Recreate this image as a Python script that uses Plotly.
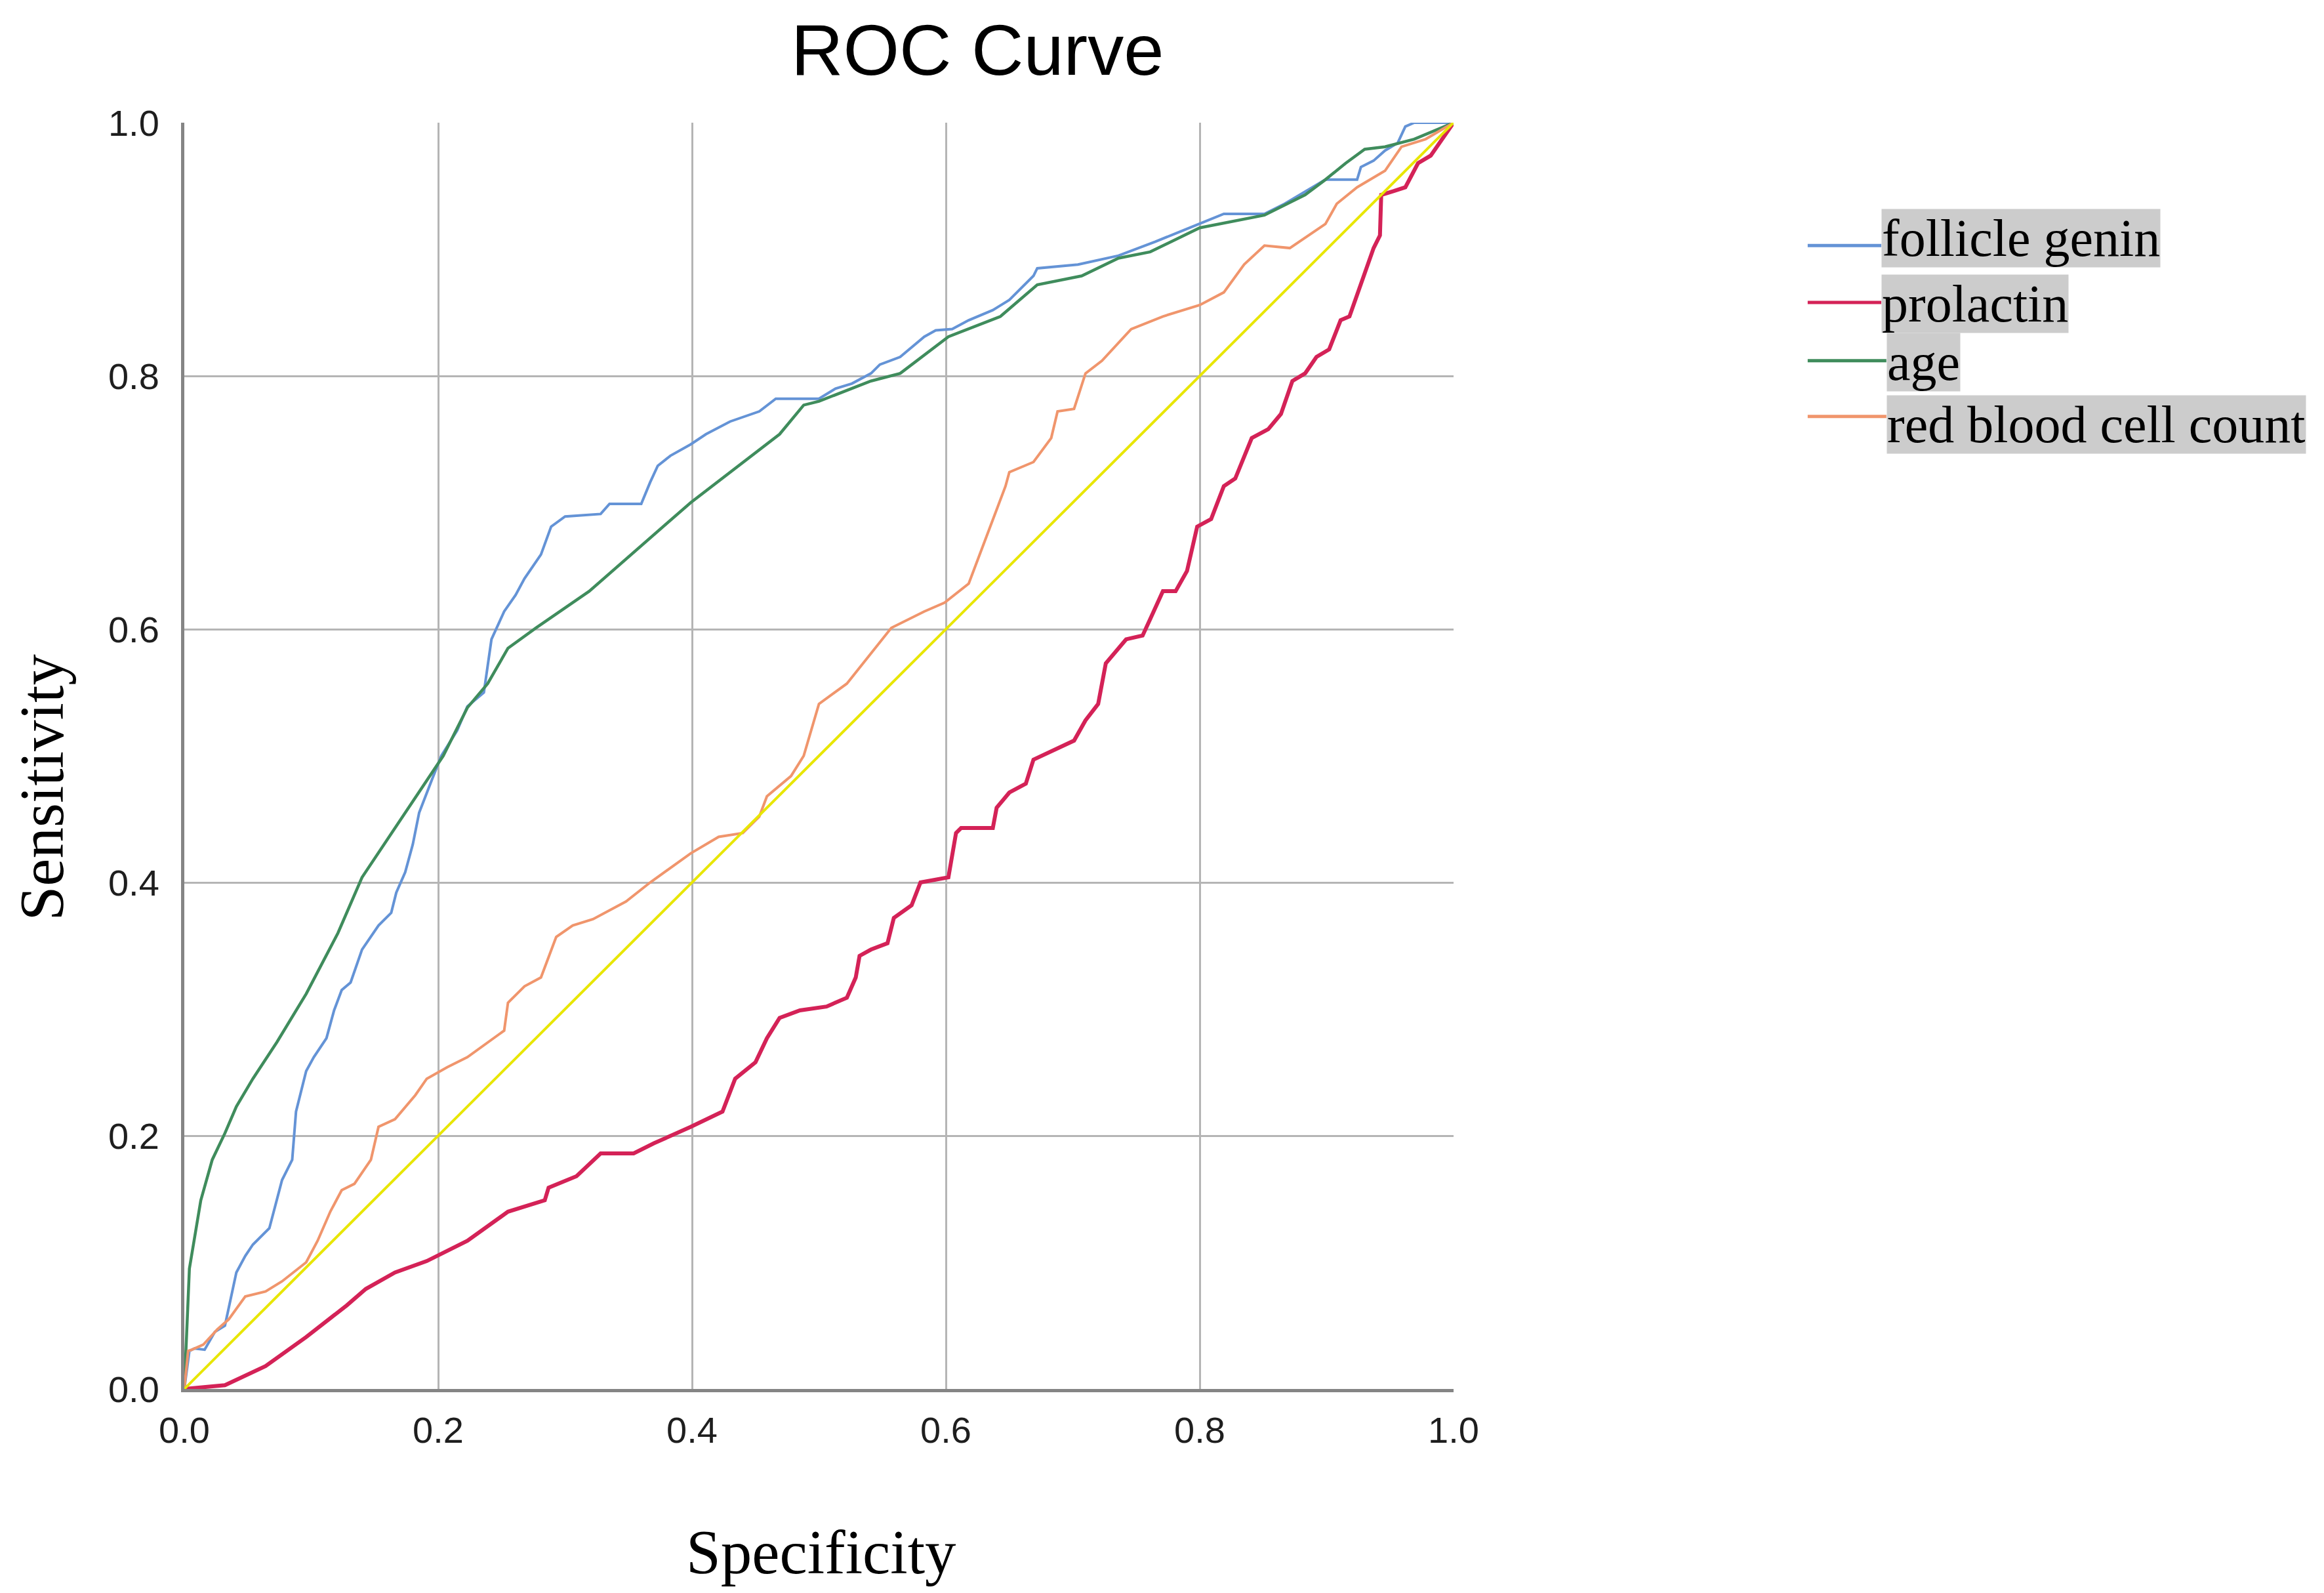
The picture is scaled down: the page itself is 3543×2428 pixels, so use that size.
import plotly.graph_objects as go

# ROC curves (x = "Specificity" axis, y = Sensitivity)
fg_x = [0, 0.004, 0.008, 0.016, 0.024, 0.032, 0.041, 0.048, 0.054, 0.067, 0.077,
        0.085, 0.088, 0.096, 0.102, 0.112, 0.118, 0.124, 0.131, 0.14, 0.153,
        0.163, 0.167, 0.174, 0.18, 0.185, 0.195, 0.2025, 0.215, 0.223, 0.236,
        0.242, 0.252, 0.261, 0.268, 0.281, 0.289, 0.3, 0.328, 0.335, 0.36,
        0.367, 0.373, 0.383, 0.399, 0.411, 0.43, 0.453, 0.466, 0.5, 0.513,
        0.526, 0.541, 0.548, 0.564, 0.583, 0.592, 0.605, 0.618, 0.637, 0.65,
        0.669, 0.672, 0.704, 0.736, 0.765, 0.787, 0.819, 0.851, 0.867, 0.899,
        0.924, 0.927, 0.937, 0.946, 0.956, 0.962, 0.969, 1.0]
fg_y = [0, 0.03, 0.032, 0.031, 0.045, 0.05, 0.092, 0.105, 0.114, 0.127, 0.165,
        0.181, 0.219, 0.251, 0.262, 0.277, 0.299, 0.315, 0.321, 0.347, 0.366,
        0.376, 0.392, 0.408, 0.43, 0.455, 0.481, 0.5, 0.52, 0.539, 0.55,
        0.592, 0.614, 0.627, 0.64, 0.659, 0.681, 0.689, 0.691, 0.699, 0.699,
        0.716, 0.729, 0.737, 0.746, 0.754, 0.764, 0.772, 0.782, 0.782, 0.79,
        0.794, 0.802, 0.809, 0.815, 0.831, 0.836, 0.837, 0.844, 0.852, 0.86,
        0.879, 0.885, 0.888, 0.895, 0.906, 0.915, 0.928, 0.928, 0.936, 0.955,
        0.955, 0.965, 0.97, 0.978, 0.984, 0.997, 1.0, 1.0]

prl_x = [0, 0.032, 0.064, 0.096, 0.128, 0.143, 0.166, 0.191, 0.223, 0.255,
         0.284, 0.287, 0.309, 0.328, 0.354, 0.37, 0.399, 0.424, 0.434, 0.45,
         0.459, 0.469, 0.485, 0.506, 0.522, 0.529, 0.532, 0.541, 0.554, 0.559,
         0.573, 0.58, 0.602, 0.608, 0.612, 0.637, 0.64, 0.65, 0.663, 0.669,
         0.701, 0.71, 0.72, 0.726, 0.742, 0.755, 0.761, 0.771, 0.781, 0.79,
         0.798, 0.809, 0.819, 0.828, 0.841, 0.854, 0.864, 0.873, 0.883, 0.892,
         0.902, 0.911, 0.918, 0.927, 0.937, 0.942, 0.943, 0.953, 0.962, 0.972,
         0.982, 1.0]
prl_y = [0, 0.003, 0.018, 0.041, 0.066, 0.079, 0.092, 0.101, 0.117, 0.14,
         0.149, 0.159, 0.168, 0.186, 0.186, 0.194, 0.207, 0.219, 0.245, 0.258,
         0.277, 0.293, 0.299, 0.302, 0.309, 0.325, 0.342, 0.347, 0.352, 0.372,
         0.382, 0.4, 0.404, 0.439, 0.443, 0.443, 0.459, 0.471, 0.478, 0.497,
         0.512, 0.528, 0.541, 0.573, 0.592, 0.595, 0.608, 0.63, 0.63, 0.646,
         0.681, 0.687, 0.713, 0.719, 0.751, 0.758, 0.77, 0.796, 0.802, 0.815,
         0.821, 0.844, 0.847, 0.872, 0.901, 0.911, 0.943, 0.946, 0.949, 0.968,
         0.974, 1.0]

age_x = [0, 0.004, 0.013, 0.022, 0.032, 0.041, 0.054, 0.073, 0.096, 0.121,
         0.14, 0.172, 0.204, 0.223, 0.239, 0.255, 0.277, 0.319, 0.399, 0.469,
         0.488, 0.5, 0.541, 0.564, 0.602, 0.643, 0.672, 0.707, 0.736, 0.761,
         0.8, 0.851, 0.883, 0.899, 0.915, 0.93, 0.946, 0.969, 1.0]
age_y = [0, 0.095, 0.149, 0.181, 0.202, 0.223, 0.245, 0.274, 0.312, 0.36,
         0.404, 0.452, 0.5, 0.538, 0.557, 0.585, 0.601, 0.63, 0.7, 0.754,
         0.777, 0.78, 0.796, 0.802, 0.831, 0.847, 0.872, 0.879, 0.893, 0.898,
         0.917, 0.927, 0.943, 0.955, 0.968, 0.979, 0.981, 0.987, 1.0]

rbc_x = [0, 0.003, 0.006, 0.015, 0.026, 0.035, 0.048, 0.064, 0.077, 0.096,
         0.105, 0.115, 0.124, 0.134, 0.147, 0.153, 0.166, 0.182, 0.191, 0.207,
         0.223, 0.252, 0.255, 0.268, 0.281, 0.293, 0.306, 0.322, 0.348, 0.367,
         0.399, 0.421, 0.44, 0.453, 0.459, 0.478, 0.488, 0.5, 0.522, 0.557,
         0.583, 0.599, 0.618, 0.647, 0.65, 0.669, 0.683, 0.688, 0.701, 0.71,
         0.723, 0.746, 0.771, 0.8, 0.819, 0.835, 0.851, 0.871, 0.899, 0.908,
         0.924, 0.946, 0.959, 0.978, 1.0]
rbc_y = [0, 0.03, 0.031, 0.035, 0.047, 0.055, 0.073, 0.077, 0.085, 0.1,
         0.117, 0.14, 0.157, 0.162, 0.181, 0.207, 0.213, 0.232, 0.245, 0.254,
         0.262, 0.283, 0.305, 0.318, 0.325, 0.357, 0.366, 0.371, 0.385, 0.4,
         0.423, 0.436, 0.439, 0.452, 0.468, 0.484, 0.5, 0.541, 0.557, 0.601,
         0.614, 0.621, 0.636, 0.713, 0.724, 0.732, 0.751, 0.772, 0.774, 0.802,
         0.812, 0.837, 0.847, 0.856, 0.866, 0.888, 0.903, 0.901, 0.92, 0.936,
         0.949, 0.962, 0.981, 0.987, 1.0]

ref_x = [0, 1]
ref_y = [0, 1]

names = ["follicle genin", "prolactin", "age", "red blood cell count"]
colors = ["#6493d6", "#d42257", "#3f8c5c", "#f0956c"]
widths = [4, 6, 4.5, 4]
series = [(fg_x, fg_y), (prl_x, prl_y), (age_x, age_y), (rbc_x, rbc_y)]

fig = go.Figure()
for (xs, ys), nm, col, w in zip(series, names, colors, widths):
    fig.add_trace(go.Scatter(x=xs, y=ys, mode="lines", name=nm,
                             line=dict(color=col, width=w), showlegend=False))
fig.add_trace(go.Scatter(x=ref_x, y=ref_y, mode="lines", name="reference",
                         line=dict(color="#e8e600", width=4), showlegend=False))

axis_style = dict(range=[0, 1], dtick=0.2, tickformat=".1f", showgrid=True,
                  gridcolor="#b5b5b5", gridwidth=3, zeroline=False,
                  showline=True, linecolor="#858585", linewidth=5, ticks="",
                  tickfont=dict(family="Liberation Sans", size=56, color="#1e1e1e"))
fig.update_xaxes(**axis_style, ticklabelstandoff=10)
fig.update_yaxes(**axis_style, ticklabelstandoff=22)

# hand-made legend with grey highlighted labels
leg_line_y = [0.903, 0.858, 0.812, 0.768]
leg_text_y = [0.909, 0.857, 0.811, 0.7615]
leg_text_x = [1.337, 1.337, 1.341, 1.341]
for nm, col, ly, ty, tx in zip(names, colors, leg_line_y, leg_text_y, leg_text_x):
    fig.add_shape(type="line", xref="paper", yref="paper", x0=1.279, x1=tx,
                  y0=ly, y1=ly, line=dict(color=col, width=5))
    fig.add_annotation(text=nm, xref="paper", yref="paper", x=tx, y=ty,
                       xanchor="left", yanchor="middle", showarrow=False,
                       bgcolor="#cccccc", borderpad=0,
                       font=dict(family="Liberation Serif", size=80, color="black"))

# title and axis titles
fig.add_annotation(text="ROC Curve", xref="paper", yref="paper", x=0.6248, y=1.0905,
                   xanchor="center", yanchor="top", showarrow=False,
                   font=dict(family="Liberation Sans", size=110, color="black"))
fig.add_annotation(text="Specificity", xref="paper", yref="paper", x=0.502, y=-0.129,
                   xanchor="center", yanchor="middle", showarrow=False,
                   font=dict(family="Liberation Serif", size=95, color="black"))
fig.add_annotation(text="Sensitivity", xref="paper", yref="paper", x=-0.112, y=0.475,
                   xanchor="center", yanchor="middle", showarrow=False, textangle=-90,
                   font=dict(family="Liberation Serif", size=95, color="black"))

fig.update_layout(
    width=3543, height=2428,
    margin=dict(l=273, r=1335, t=179, b=319),
    paper_bgcolor="white", plot_bgcolor="white",
)

fig.write_html("out.html")
